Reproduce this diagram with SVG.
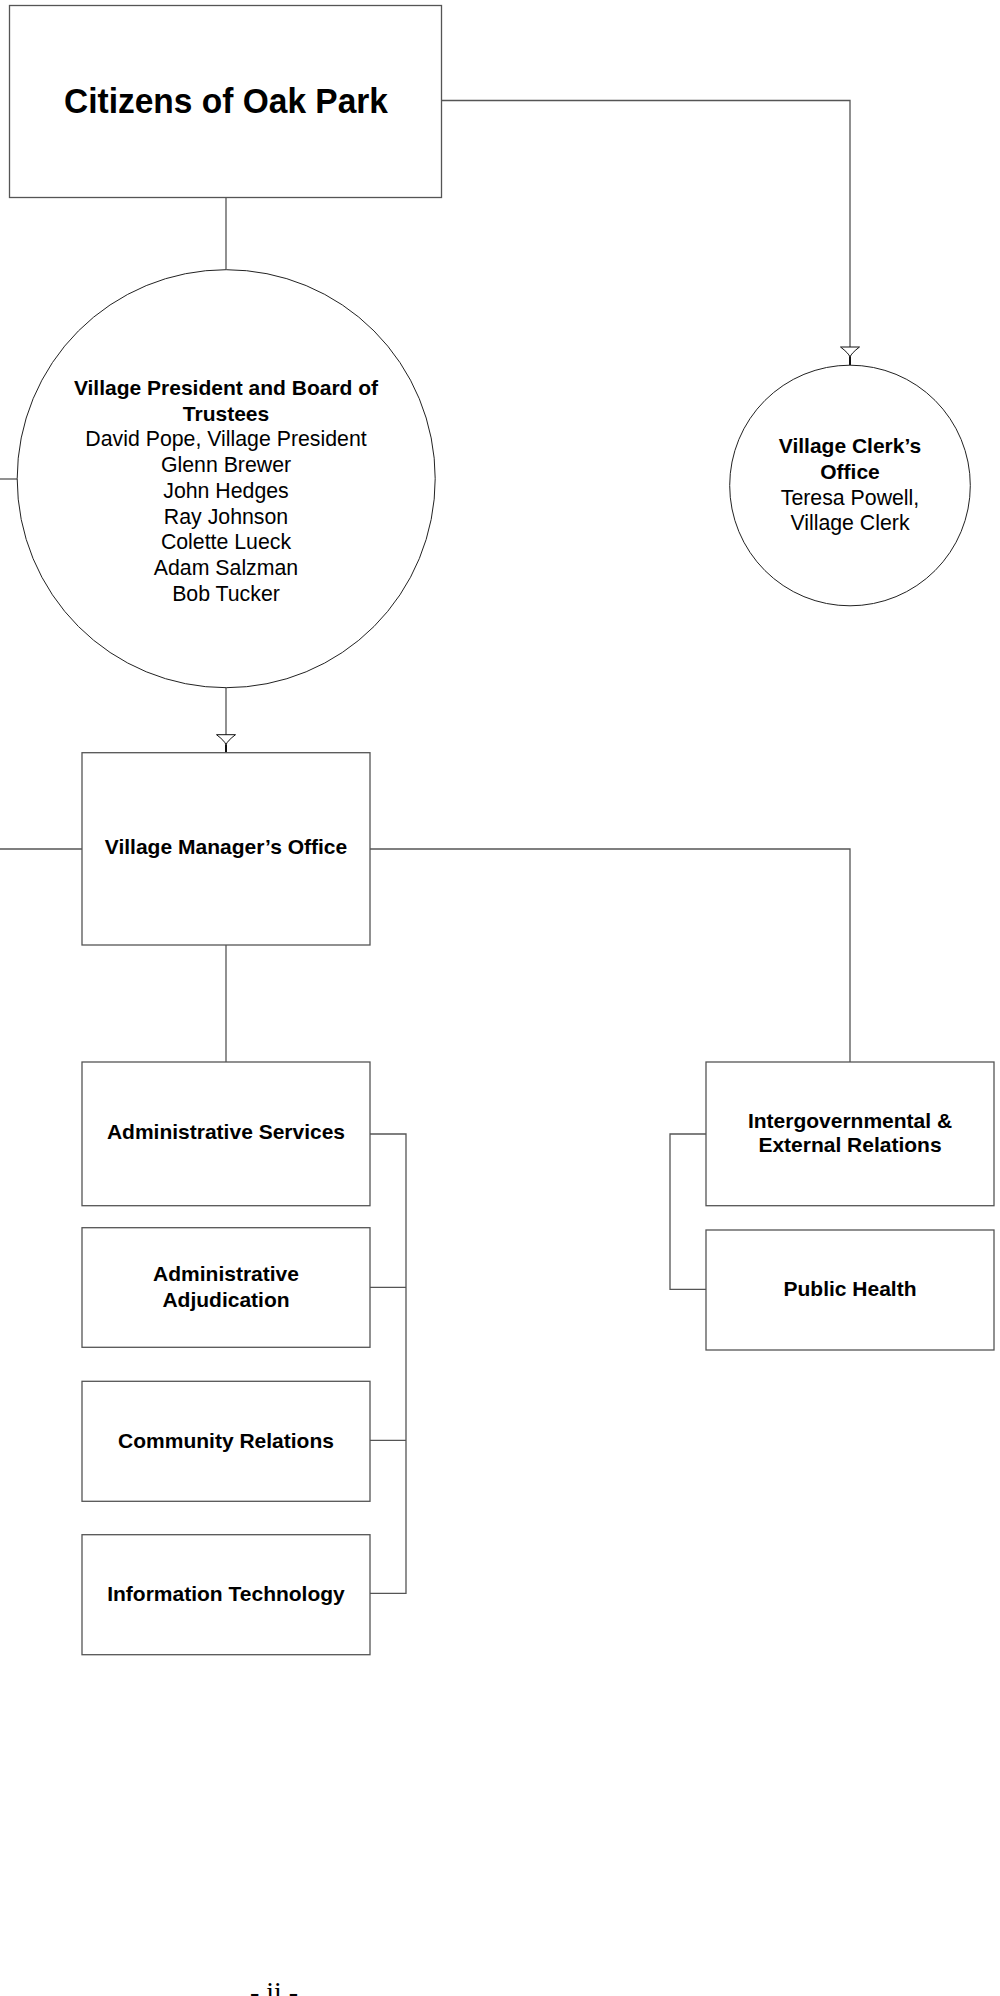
<svg xmlns="http://www.w3.org/2000/svg" width="1000" height="1996" viewBox="0 0 1000 1996">
<style>
.box{fill:#fff;stroke:#555;stroke-width:1.3}
.circ{fill:#fff;stroke:#222;stroke-width:1}
.conn{fill:none;stroke:#555;stroke-width:1.3}
text{font-family:"Liberation Sans",Arial,sans-serif;fill:#000;text-anchor:middle}
.b{font-weight:bold;font-size:21px}
.r{font-size:21.3px}
.title{font-family:"Liberation Sans Narrow","Liberation Sans",Arial,sans-serif;font-weight:bold;font-size:35px}
.page{font-family:"Liberation Serif","Times New Roman",serif;font-size:28px}
</style>
<defs>
<marker id="arr" markerUnits="userSpaceOnUse" markerWidth="22" markerHeight="22" viewBox="-20 -11 22 22" refX="0" refY="0" orient="auto" overflow="visible">
<path d="M-18,-9.5 L-18,9.5 Q-12,1.5 -8,0 Q-12,-1.5 -18,-9.5 Z" fill="#fff" stroke="#111" stroke-width="1"/>
<path d="M-8,0 L0,0" stroke="#111" stroke-width="2"/>
</marker>
</defs>
<g id="connectors">
<path class="conn" d="M226,197.5 V269.3"/>
<path class="conn" d="M441.5,100.5 H850 V365" marker-end="url(#arr)"/>
<path class="conn" d="M0,479 H17.3"/>
<path class="conn" d="M226,688 V752.7" marker-end="url(#arr)"/>
<path class="conn" d="M0,849 H82"/>
<path class="conn" d="M370,849 H850 V1062"/>
<path class="conn" d="M226,945 V1062"/>
<path class="conn" d="M370,1134 H406 V1593.3 H370 M370,1287.3 H406 M370,1440.3 H406"/>
<path class="conn" d="M706,1134 H670 V1289.3 H706"/>
</g>
<g id="citizens">
<rect class="box" x="9.5" y="5.5" width="432" height="192"/>
<text class="title" x="226" y="113" textLength="324" lengthAdjust="spacingAndGlyphs">Citizens of Oak Park</text>
</g>
<g id="board">
<circle class="circ" cx="226.2" cy="478.7" r="209"/>
<text class="b" x="226" y="395">Village President and Board of</text>
<text class="b" x="226" y="420.7">Trustees</text>
<text class="r" x="226" y="446.4">David Pope, Village President</text>
<text class="r" x="226" y="472.1">Glenn Brewer</text>
<text class="r" x="226" y="497.8">John Hedges</text>
<text class="r" x="226" y="523.5">Ray Johnson</text>
<text class="r" x="226" y="549.2">Colette Lueck</text>
<text class="r" x="226" y="574.9">Adam Salzman</text>
<text class="r" x="226" y="600.6">Bob Tucker</text>
</g>
<g id="clerk">
<circle class="circ" cx="850" cy="485.5" r="120.3"/>
<text class="b" x="850" y="453.3">Village Clerk’s</text>
<text class="b" x="850" y="479">Office</text>
<text class="r" x="850" y="504.7">Teresa Powell,</text>
<text class="r" x="850" y="530.4">Village Clerk</text>
</g>
<g id="manager">
<rect class="box" x="82" y="752.7" width="288" height="192.3"/>
<text class="b" x="226" y="854">Village Manager’s Office</text>
</g>
<g id="admin-services">
<rect class="box" x="82" y="1062" width="288" height="143.7"/>
<text class="b" x="226" y="1139.3">Administrative Services</text>
</g>
<g id="admin-adjudication">
<rect class="box" x="82" y="1227.7" width="288" height="119.6"/>
<text class="b" x="226" y="1280.7">Administrative</text>
<text class="b" x="226" y="1306.7">Adjudication</text>
</g>
<g id="community-relations">
<rect class="box" x="82" y="1381.3" width="288" height="120"/>
<text class="b" x="226" y="1447.7">Community Relations</text>
</g>
<g id="information-technology">
<rect class="box" x="82" y="1534.7" width="288" height="120"/>
<text class="b" x="226" y="1600.7">Information Technology</text>
</g>
<g id="intergovernmental">
<rect class="box" x="706" y="1062" width="288" height="143.7"/>
<text class="b" x="850" y="1128.3">Intergovernmental &amp;</text>
<text class="b" x="850" y="1152.3">External Relations</text>
</g>
<g id="public-health">
<rect class="box" x="706" y="1230" width="288" height="120"/>
<text class="b" x="850" y="1296">Public Health</text>
</g>
<text class="page" x="274" y="2001">- ii -</text>
</svg>
